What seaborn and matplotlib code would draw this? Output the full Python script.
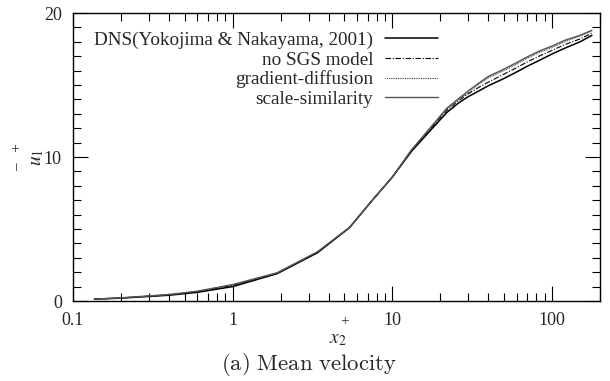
import numpy as np
import pandas as pd
import matplotlib
matplotlib.use("Agg")
import matplotlib.pyplot as plt
import seaborn as sns
from matplotlib.ticker import LogLocator, MultipleLocator, FixedLocator, NullFormatter

# ---- data ----
x2_plus = [0.136, 0.2, 0.4, 0.6, 1.0, 1.9, 3.4, 5.4, 7.5, 10, 13.2, 17.5, 22, 26, 30, 35, 40, 50, 60, 70, 83, 100, 120, 150, 178]
dns = [0.13, 0.20, 0.40, 0.60, 1.00, 1.90, 3.35, 5.10, 7.00, 8.60, 10.40, 11.90, 13.10, 13.75, 14.20, 14.60, 14.95, 15.45, 15.90, 16.30, 16.70, 17.15, 17.55, 18.00, 18.45]
no_sgs = [0.13, 0.21, 0.43, 0.65, 1.08, 1.92, 3.38, 5.10, 7.00, 8.60, 10.45, 12.00, 13.25, 13.90, 14.40, 14.85, 15.20, 15.75, 16.20, 16.60, 17.00, 17.40, 17.80, 18.20, 18.60]
grad_diff = [0.13, 0.22, 0.44, 0.67, 1.12, 1.95, 3.40, 5.10, 7.00, 8.60, 10.50, 12.05, 13.35, 14.00, 14.50, 15.05, 15.50, 16.00, 16.45, 16.85, 17.25, 17.60, 18.00, 18.40, 18.75]
scale_sim = [0.13, 0.22, 0.45, 0.68, 1.14, 1.96, 3.42, 5.12, 7.00, 8.60, 10.50, 12.10, 13.40, 14.05, 14.60, 15.15, 15.60, 16.10, 16.55, 16.95, 17.35, 17.70, 18.10, 18.45, 18.80]

labels = ["DNS(Yokojima & Nakayama, 2001)", "no SGS model", "gradient-diffusion", "scale-similarity"]
x_ticks = [0.1, 1, 10, 100]
x_ticklabels = ["0.1", "1", "10", "100"]
y_ticks = [0, 10, 20]
y_ticklabels = ["0", "10", "20"]

sns.set_style("ticks")
plt.rcParams["font.family"] = ["Liberation Serif", "DejaVu Serif"]
plt.rcParams["mathtext.fontset"] = "stix"

fig = plt.figure(figsize=(6.1, 3.81), dpi=100)
ax = fig.add_axes([73/610, 1-301/381, 527/610, 288/381])

styles = [
    dict(color="black", linestyle="-", linewidth=1.1),
    dict(color="black", linestyle=(0, (5, 1.5, 1, 1.5)), linewidth=0.8),
    dict(color="#333333", linestyle=(0, (0.8, 0.8)), linewidth=0.8),
    dict(color="#555555", linestyle="-", linewidth=1.0),
]
for yv, lab, st in zip([dns, no_sgs, grad_diff, scale_sim], labels, styles):
    sns.lineplot(x=x2_plus, y=yv, ax=ax, label=lab, **st)

ax.set_xscale("log")
ax.set_xlim(0.1, 200)
ax.set_ylim(0, 20)
ax.xaxis.set_major_locator(FixedLocator(x_ticks))
ax.set_xticklabels(x_ticklabels)
ax.xaxis.set_minor_locator(LogLocator(base=10, subs=np.arange(2, 10)))
ax.xaxis.set_minor_formatter(NullFormatter())
ax.yaxis.set_major_locator(FixedLocator(y_ticks))
ax.set_yticklabels(y_ticklabels)
ax.yaxis.set_minor_locator(MultipleLocator(1))

ax.tick_params(which="both", direction="in", top=True, right=True, labelsize=13, color="black")
ax.tick_params(which="major", length=11, width=0.8)
ax.tick_params(axis="x", which="major", pad=8)
ax.tick_params(axis="y", which="major", pad=8)
ax.tick_params(which="minor", length=5.5, width=0.8)
for s in ax.spines.values():
    s.set_linewidth(1.0)
    s.set_color("black")

ax.set_xlabel(r"$x_2$", fontsize=14)
ax.xaxis.label.set_va("center")
ax.xaxis.set_label_coords((338-73)/527, (301-340)/288)
ax.set_ylabel(r"$u_1$", fontsize=14)
ax.yaxis.label.set_va("center")
ax.yaxis.set_label_coords((37-73)/527, (301-157)/288)
# detached "+" and overbar, as in the reference
fig.text(345/610, 1-322/381, "+", ha="center", va="center", fontsize=11)
fig.text(18/610, 1-157/381, "\u2013   +", ha="center", va="center", fontsize=11, rotation=90)

leg = ax.legend(loc="upper right", bbox_to_anchor=(0.693, 0.935), frameon=False,
                markerfirst=False, fontsize=13.8, handlelength=2.8, handletextpad=0.6,
                labelspacing=0.1, borderaxespad=0, borderpad=0)

fig.text(309/610, 1-364/381, r"$\mathrm{(a)\ Mean\ velocity}$", ha="center", va="center",
         fontsize=16.4, math_fontfamily="cm")

fig.savefig("out.png", dpi=100)
